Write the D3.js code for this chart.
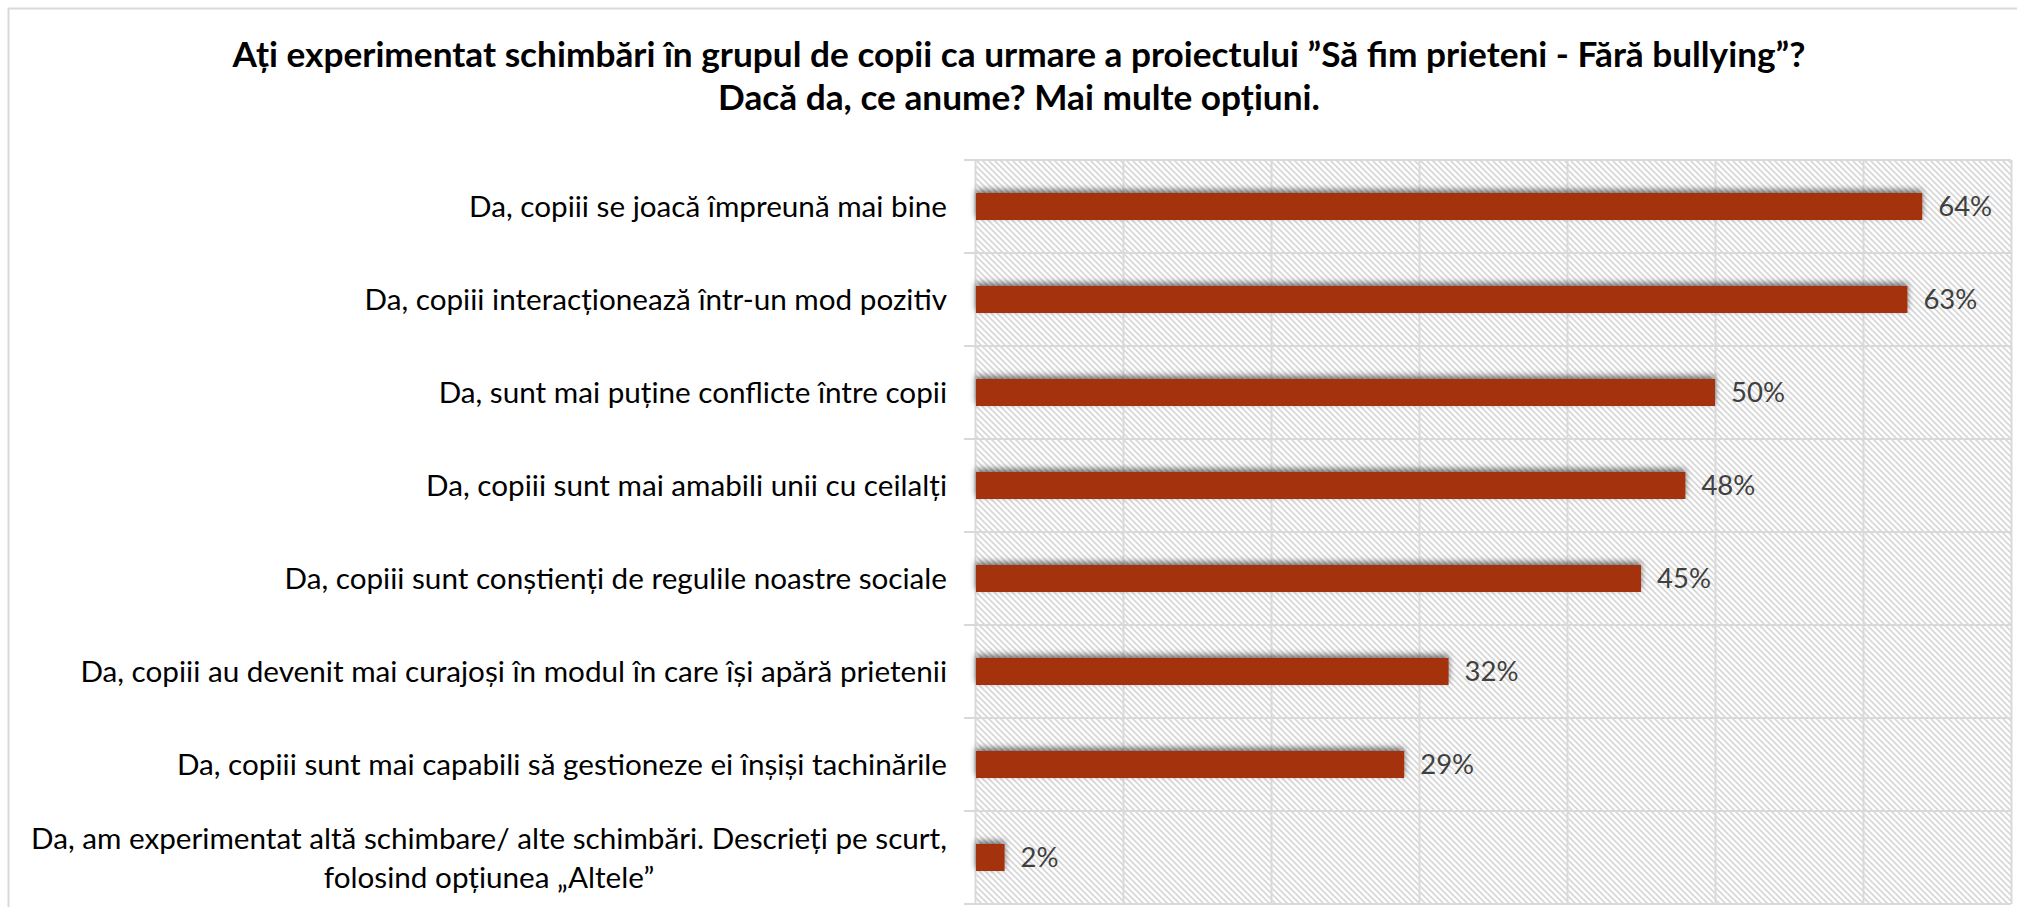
<!DOCTYPE html>
<html>
<head>
<meta charset="utf-8">
<script src="https://cdn.jsdelivr.net/npm/d3@7"></script>
<style>
  html, body { margin: 0; padding: 0; background: #fff; }
  svg { display: block; }
</style>
</head>
<body>
<svg id="chart"></svg>
<script>
'use strict';

// data
const title_lines = [
    'Ați experimentat schimbări în grupul de copii ca urmare a proiectului ”Să fim prieteni - Fără bullying”?',
    'Dacă da, ce anume? Mai multe opțiuni.'
];
const categories = [
    'Da, copiii se joacă împreună mai bine',
    'Da, copiii interacționează într-un mod pozitiv',
    'Da, sunt mai puține conflicte între copii',
    'Da, copiii sunt mai amabili unii cu ceilalți',
    'Da, copiii sunt conștienți de regulile noastre sociale',
    'Da, copiii au devenit mai curajoși în modul în care își apără prietenii',
    'Da, copiii sunt mai capabili să gestioneze ei înșiși tachinările',
    'Da, am experimentat altă schimbare/ alte schimbări. Descrieți pe scurt,\nfolosind opțiunea „Altele”'
];
const values = [0.64, 0.63, 0.50, 0.48, 0.45, 0.32, 0.29, 0.02];
const x_ticks = [0, 0.1, 0.2, 0.3, 0.4, 0.5, 0.6, 0.7];

const fig = {
    width: 2017,
    height: 907,
    plot: { left: 975, right: 2011, top: 160, bottom: 904 },
    label_right: 947,
    font: 'Lato, "Open Sans", sans-serif',
    color_bar: '#a3300f',
    color_grid: '#d9d9d9',
    color_hatch: '#d6d6d6',
    color_value: '#404040',

    init: function() {
        this.svg = d3.select('#chart')
            .attr('width', this.width)
            .attr('height', this.height);
    },

    // font size that makes a text reach the given width
    fit_size: function(text, weight, target) {
        const t = this.svg.append('text')
            .attr('font-family', this.font)
            .attr('font-weight', weight)
            .attr('font-size', 100)
            .text(text);
        const w = t.node().getComputedTextLength();
        t.remove();
        return 100 * target / w;
    },

    draw: function() {
        const p = this.plot;
        const defs = this.svg.append('defs');

        // light downward diagonal fill of the plot area
        const pat = defs.append('pattern')
            .attr('id', 'hatch')
            .attr('patternUnits', 'userSpaceOnUse')
            .attr('width', 6)
            .attr('height', 6);
        pat.append('rect').attr('width', 6).attr('height', 6).attr('fill', '#fff');
        pat.append('path')
            .attr('d', 'M-1,-1 L7,7 M-4,2 L1,7 M5,-1 L8,2')
            .attr('stroke', this.color_hatch)
            .attr('stroke-width', 1.6);

        const shadow = defs.append('filter')
            .attr('id', 'shadow')
            .attr('x', '-20%').attr('y', '-60%')
            .attr('width', '140%').attr('height', '200%');
        shadow.append('feDropShadow')
            .attr('dx', 0).attr('dy', -3)
            .attr('stdDeviation', 3)
            .attr('flood-color', '#000')
            .attr('flood-opacity', 0.55);

        // chart border
        this.svg.append('rect')
            .attr('x', 8.5).attr('y', 8.5)
            .attr('width', this.width + 20).attr('height', this.height + 20)
            .attr('fill', 'none')
            .attr('stroke', this.color_grid)
            .attr('stroke-width', 2);

        // title
        const title_size = this.fit_size(title_lines[0], 'bold', 1573);
        this.svg.append('g')
            .selectAll('text')
            .data(title_lines)
            .enter()
            .append('text')
            .attr('x', 1019)
            .attr('y', (d, i) => 67 + i * 43)
            .attr('text-anchor', 'middle')
            .attr('font-family', this.font)
            .attr('font-weight', 'bold')
            .attr('font-size', title_size)
            .attr('fill', '#000')
            .text(d => d);

        const x = d3.scaleLinear()
            .domain([0, 0.7])
            .range([p.left, p.right]);
        const y = d3.scaleBand()
            .domain(categories)
            .range([p.top, p.bottom])
            .paddingInner(0.71)
            .paddingOuter(0.355);

        // plot area background
        this.svg.append('rect')
            .attr('x', p.left).attr('y', p.top)
            .attr('width', p.right - p.left)
            .attr('height', p.bottom - p.top)
            .attr('fill', 'url(#hatch)');

        // vertical gridlines
        const g_grid = this.svg.append('g')
            .attr('transform', 'translate(0,' + p.bottom + ')')
            .call(d3.axisBottom(x)
                .tickValues(x_ticks)
                .tickSize(-(p.bottom - p.top))
                .tickFormat(''));
        g_grid.select('.domain').remove();
        g_grid.selectAll('line')
            .attr('stroke', this.color_grid)
            .attr('stroke-width', 2);

        // row separators, with the small outward tick
        const row_edges = d3.range(categories.length + 1)
            .map(i => y.range()[0] + i * y.step());
        this.svg.append('g')
            .selectAll('line')
            .data(row_edges)
            .enter()
            .append('line')
            .attr('x1', p.left - 11)
            .attr('x2', p.right)
            .attr('y1', d => d)
            .attr('y2', d => d)
            .attr('stroke', this.color_grid)
            .attr('stroke-width', 2);

        // bars
        this.svg.append('g')
            .selectAll('rect')
            .data(values)
            .enter()
            .append('rect')
            .attr('x', x(0) + 1)
            .attr('y', (d, i) => y(categories[i]))
            .attr('width', d => x(d) - x(0) - 1)
            .attr('height', y.bandwidth())
            .attr('fill', this.color_bar)
            .attr('filter', 'url(#shadow)');

        // value labels
        const value_size = this.fit_size('64%', 'normal', 54);
        this.svg.append('g')
            .selectAll('text')
            .data(values)
            .enter()
            .append('text')
            .attr('x', d => x(d) + 16)
            .attr('y', (d, i) => y(categories[i]) + y.bandwidth() / 2)
            .attr('dy', '0.36em')
            .attr('font-family', this.font)
            .attr('font-size', value_size)
            .attr('fill', this.color_value)
            .text(d => Math.round(d * 100) + '%');

        // category labels
        const label_size = this.fit_size(categories[0], 'normal', 478);
        const line_h = label_size * 1.32;
        const self = this;
        this.svg.append('g')
            .selectAll('g')
            .data(categories)
            .enter()
            .append('g')
            .each(function(d) {
                const lines = d.split('\n');
                const cy = y(d) + y.bandwidth() / 2;
                const g = d3.select(this);
                let first_w = 0;
                lines.forEach(function(line, k) {
                    const t = g.append('text')
                        .attr('y', cy + (k - (lines.length - 1) / 2) * line_h)
                        .attr('dy', '0.36em')
                        .attr('font-family', self.font)
                        .attr('font-size', label_size)
                        .attr('fill', '#000')
                        .text(line);
                    if (k == 0) {
                        t.attr('x', self.label_right).attr('text-anchor', 'end');
                        first_w = t.node().getComputedTextLength();
                    } else {
                        // wrapped lines are centred under the first one
                        t.attr('x', self.label_right - first_w / 2).attr('text-anchor', 'middle');
                    }
                });
            });
    }
};

fig.init();
fig.draw();
</script>
</body>
</html>
